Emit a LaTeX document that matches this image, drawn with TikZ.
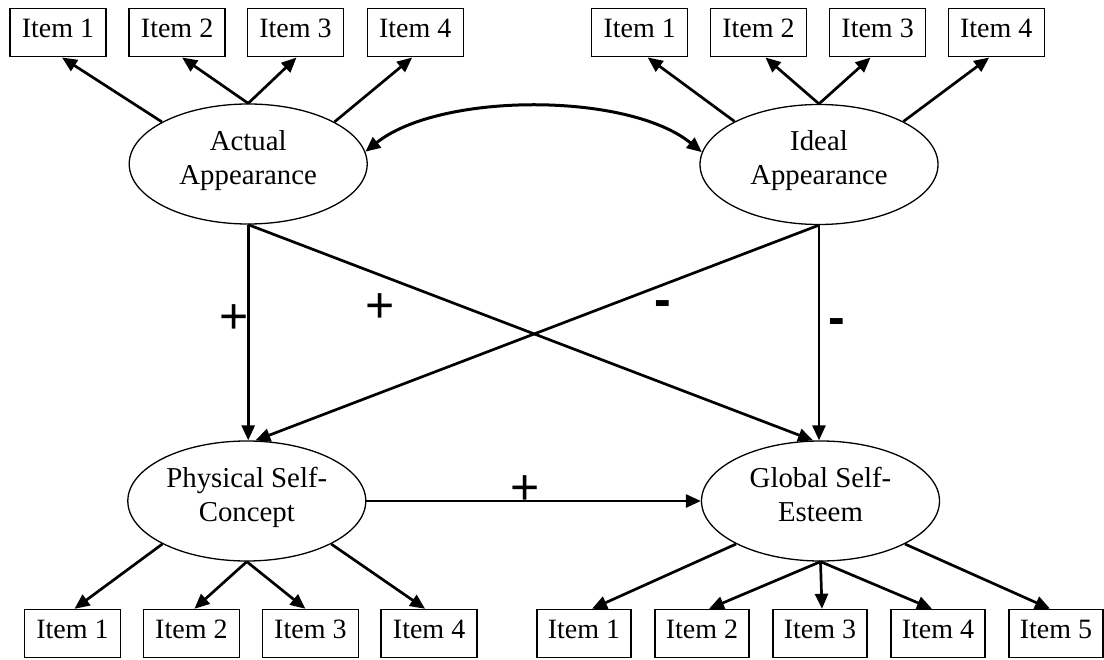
\documentclass[tikz,border=0pt]{standalone}
\usepackage{fontspec}
\setmainfont{Liberation Serif}
\newfontfamily\signfont{Liberation Sans}
\usetikzlibrary{shapes.geometric,arrows.meta}
\begin{document}
\begin{tikzpicture}[x=1pt,y=-1pt,
  item/.style={draw, line width=1.4pt, minimum width=96pt, minimum height=48pt, inner sep=0pt,
    font=\fontsize{28}{34}\selectfont, text height=19pt, text depth=9pt},
  itemn/.style={item, minimum width=94pt},
  latent/.style={ellipse, draw, line width=1.3pt, minimum width=238pt, minimum height=120pt, inner sep=0pt,
    align=center, font=\fontsize{28.8}{34}\selectfont, text height=53pt, text depth=12.4pt},
  conn/.style={line width=2.7pt, -{Triangle[length=15pt,width=13pt]}},
  corr/.style={line width=3pt, {Triangle[length=15pt,width=13pt]}-{Triangle[length=15pt,width=13pt]}},
  signlbl/.style={font=\signfont\fontsize{50}{50}\selectfont, inner sep=0pt, anchor=base},
  minuslbl/.style={font=\signfont\bfseries\fontsize{50}{50}\selectfont, inner sep=0pt, anchor=base}
]
\useasboundingbox (0,0) rectangle (1104,660);

% latent variables
\node[latent] (aa) at (248.2,164) {Actual\\Appearance};
\node[latent] (ia) at (819,164.5) {Ideal\\Appearance};
\node[latent] (psc) at (246.8,501) {Physical Self-\\Concept};
\node[latent] (gse) at (820.5,501) {Global Self-\\Esteem};

% indicators
\node[item] (al1) at (58,32.8) {Item 1};
\node[item] (al2) at (177.1,32.8) {Item 2};
\node[item] (al3) at (295.5,32.8) {Item 3};
\node[item] (al4) at (415.2,32.8) {Item 4};
\node[item] (il1) at (639.7,32.8) {Item 1};
\node[item] (il2) at (758.5,32.8) {Item 2};
\node[item] (il3) at (877.6,32.8) {Item 3};
\node[item] (il4) at (996.2,32.8) {Item 4};
\node[item] (pl1) at (72.5,633.5) {Item 1};
\node[item] (pl2) at (191.4,633.5) {Item 2};
\node[item] (pl3) at (310.4,633.5) {Item 3};
\node[item] (pl4) at (429.1,633.5) {Item 4};
\node[itemn] (gl1) at (584,633.5) {Item 1};
\node[itemn] (gl2) at (702,633.5) {Item 2};
\node[itemn] (gl3) at (820,633.5) {Item 3};
\node[itemn] (gl4) at (938,633.5) {Item 4};
\node[itemn] (gl5) at (1056,633.5) {Item 5};

% loadings
\draw[conn] (aa.154) -- ([xshift=4pt]al1.south);
\draw[conn] (aa.north) -- ([xshift=5pt]al2.south);
\draw[conn] (aa.north) -- ([xshift=1pt]al3.south);
\draw[conn] (aa.26) -- ([xshift=-3pt]al4.south);
\draw[conn] (ia.153) -- ([xshift=8pt]il1.south);
\draw[conn] (ia.north) -- ([xshift=7pt]il2.south);
\draw[conn] (ia.north) -- ([xshift=-7pt]il3.south);
\draw[conn] (ia.27) -- ([xshift=-7pt]il4.south);
\draw[conn] (psc.207) -- ([xshift=2pt]pl1.north);
\draw[conn] (psc.south) -- ([xshift=3pt]pl2.north);
\draw[conn] (psc.south) -- ([xshift=-5pt]pl3.north);
\draw[conn] (psc.333) -- ([xshift=-4pt]pl4.north);
\draw[conn] (gse.207) -- ([xshift=8pt]gl1.north);
\draw[conn] (gse.south) -- ([xshift=7pt]gl2.north);
\draw[conn] (gse.south) -- ([xshift=2pt]gl3.north);
\draw[conn] (gse.south) -- ([xshift=-6pt]gl4.north);
\draw[conn] (gse.333) -- ([xshift=-6pt]gl5.north);

% structural paths
\draw[conn] (aa.south) -- (aa.south |- psc.north);
\draw[conn] (aa.south) -- (gse.97);
\draw[conn] (ia.south) -- (psc.82);
\draw[conn] (ia.south) -- (ia.south |- gse.north);
\draw[conn] (psc.east) -- (gse.west);

% correlation
\draw[corr] (aa.6) .. controls (440,92) and (628.4,92) .. (ia.174);

% signs
\node[signlbl] (s1) at (234.3,334) {+};
\node[signlbl] (s2) at (380,323) {+};
\node[minuslbl] (s3) at (662.7,317) {-};
\node[minuslbl] (s4) at (837.3,334.7) {-};
\node[signlbl] (s5) at (524.7,504) {+};
\end{tikzpicture}
\end{document}
